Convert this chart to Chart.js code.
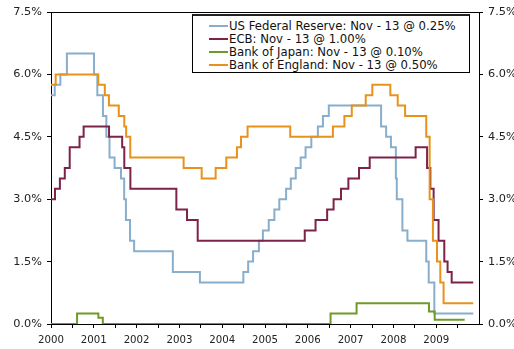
<!DOCTYPE html>
<html>
<head>
<meta charset="utf-8">
<script src="https://cdn.jsdelivr.net/npm/chart.js@4.4.1/dist/chart.umd.min.js"></script>
<style>
  body { margin: 0; background: #fff; }
  #wrap { position: relative; width: 514px; height: 349px; }
  #legend {
    position: absolute; left: 192px; top: 14px; width: 278px; height: 59px;
    box-sizing: border-box; border: 1px solid #000; border-top: 2px solid #222; background: #fff;
    font: 11.7px 'DejaVu Sans', Verdana, sans-serif; color: #111; padding-top: 3px;
  }
  .row { display: flex; align-items: center; height: 13px; padding-left: 16px; white-space: nowrap; }
  .swatch { width: 19px; height: 2px; margin-right: 1px; }
</style>
</head>
<body>
<div id="wrap">
  <canvas id="ratesChart" width="514" height="349"></canvas>
  <div id="legend"></div>
</div>
<script>
// series labels / colours
const seriesLabels = [
    'US Federal Reserve: Nov - 13 @ 0.25%',
    'ECB: Nov - 13 @ 1.00%',
    'Bank of Japan: Nov - 13 @ 0.10%',
    'Bank of England: Nov - 13 @ 0.50%'
];
const seriesColors = ['#88AECB', '#7D2249', '#6F9A28', '#E8921B'];

// policy rate change dates and rates (value holds until next date)
const fedDates = ['2000-01-01', '2000-02-02', '2000-03-21', '2000-05-16', '2001-01-03', '2001-01-31',
    '2001-03-20', '2001-04-18', '2001-05-15', '2001-06-27', '2001-08-21', '2001-09-17', '2001-10-02',
    '2001-11-06', '2001-12-11', '2002-11-06', '2003-06-25', '2004-06-30', '2004-08-10', '2004-09-21',
    '2004-11-10', '2004-12-14', '2005-02-02', '2005-03-22', '2005-05-03', '2005-06-30', '2005-08-09',
    '2005-09-20', '2005-11-01', '2005-12-13', '2006-01-31', '2006-03-28', '2006-05-10', '2006-06-29',
    '2007-09-18', '2007-10-31', '2007-12-11', '2008-01-22', '2008-01-30', '2008-03-18', '2008-04-30',
    '2008-10-08', '2008-10-29', '2008-12-16', '2009-11-13'];
const fedRates = [5.50, 5.75, 6.00, 6.50, 6.00, 5.50,
    5.00, 4.50, 4.00, 3.75, 3.50, 3.00, 2.50,
    2.00, 1.75, 1.25, 1.00, 1.25, 1.50, 1.75,
    2.00, 2.25, 2.50, 2.75, 3.00, 3.25, 3.50,
    3.75, 4.00, 4.25, 4.50, 4.75, 5.00, 5.25,
    4.75, 4.50, 4.25, 3.50, 3.00, 2.25, 2.00,
    1.50, 1.00, 0.25, 0.25];

const ecbDates = ['2000-01-01', '2000-02-04', '2000-03-17', '2000-04-28', '2000-06-09', '2000-09-01',
    '2000-10-06', '2001-05-11', '2001-08-31', '2001-09-18', '2001-11-09', '2002-12-06', '2003-03-07',
    '2003-06-06', '2005-12-06', '2006-03-08', '2006-06-15', '2006-08-09', '2006-10-11', '2006-12-13',
    '2007-03-14', '2007-06-13', '2008-07-09', '2008-10-15', '2008-11-12', '2008-12-10', '2009-01-21',
    '2009-03-11', '2009-04-08', '2009-05-13', '2009-11-13'];
const ecbRates = [3.00, 3.25, 3.50, 3.75, 4.25, 4.50,
    4.75, 4.50, 4.25, 3.75, 3.25, 2.75, 2.50,
    2.00, 2.25, 2.50, 2.75, 3.00, 3.25, 3.50,
    3.75, 4.00, 4.25, 3.75, 3.25, 2.50, 2.00,
    1.50, 1.25, 1.00, 1.00];

const bojDates = ['2000-01-01', '2000-08-11', '2001-02-09', '2001-03-19', '2006-07-14', '2007-02-21',
    '2008-10-31', '2008-12-19', '2009-09-01'];
const bojRates = [0.00, 0.25, 0.15, 0.00, 0.25, 0.50, 0.30, 0.10, 0.10];

const boeDates = ['2000-01-01', '2000-02-10', '2001-02-08', '2001-04-05', '2001-05-10', '2001-08-02',
    '2001-09-18', '2001-10-04', '2001-11-08', '2003-02-06', '2003-07-10', '2003-11-06', '2004-02-05',
    '2004-05-06', '2004-06-10', '2004-08-05', '2005-08-04', '2006-08-03', '2006-11-09', '2007-01-11',
    '2007-05-10', '2007-07-05', '2007-12-06', '2008-02-07', '2008-04-10', '2008-10-08', '2008-11-06',
    '2008-12-04', '2009-01-08', '2009-02-05', '2009-03-05', '2009-11-13'];
const boeRates = [5.75, 6.00, 5.75, 5.50, 5.25, 5.00,
    4.75, 4.50, 4.00, 3.75, 3.50, 3.75, 4.00,
    4.25, 4.50, 4.75, 4.50, 4.75, 5.00, 5.25,
    5.50, 5.75, 5.50, 5.25, 5.00, 4.50, 3.00,
    2.00, 1.50, 1.00, 0.50, 0.50];

// axis labels
const yearLabels = [2000, 2001, 2002, 2003, 2004, 2005, 2006, 2007, 2008, 2009];
const yTicks = [0, 1.5, 3.0, 4.5, 6.0, 7.5];

// date string -> fractional year
function toYear(s) {
    const [y, m, d] = s.split('-').map(Number);
    const start = Date.UTC(y, 0, 1);
    const len = Date.UTC(y + 1, 0, 1) - start;
    return y + (Date.UTC(y, m - 1, d) - start) / len;
}

function toPoints(dates, rates) {
    return dates.map((d, i) => ({ x: toYear(d), y: rates[i] }));
}

const seriesData = [
    toPoints(fedDates, fedRates),
    toPoints(ecbDates, ecbRates),
    toPoints(bojDates, bojRates),
    toPoints(boeDates, boeRates)
];

Chart.defaults.font.family = "'DejaVu Sans', Verdana, sans-serif";
Chart.defaults.font.size = 11;
Chart.defaults.color = '#222';

// top edge of the plot frame
const frameTop = {
    id: 'frameTop',
    beforeDatasetsDraw(chart) {
        const { ctx, chartArea } = chart;
        ctx.save();
        ctx.strokeStyle = '#000';
        ctx.lineWidth = 1;
        ctx.beginPath();
        ctx.moveTo(chartArea.left, Math.round(chartArea.top) + 0.5);
        ctx.lineTo(chartArea.right, Math.round(chartArea.top) + 0.5);
        ctx.stroke();
        ctx.restore();
    }
};

const yAxis = (position, width) => ({
    type: 'linear',
    position: position,
    min: 0,
    max: 7.5,
    afterBuildTicks: scale => { scale.ticks = yTicks.map(v => ({ value: v })); },
    afterFit: scale => { scale.width = width; },
    grid: { drawOnChartArea: false, color: '#000', tickLength: 4 },
    border: { color: '#000', width: 1 },
    ticks: {
        padding: 5,
        font: { size: 11.3 },
        callback: v => v.toFixed(1) + '%'
    }
});

new Chart(document.getElementById('ratesChart'), {
    type: 'line',
    data: {
        datasets: seriesLabels.map((label, i) => ({
            label: label,
            data: seriesData[i],
            borderColor: seriesColors[i],
            backgroundColor: seriesColors[i],
            borderWidth: 2,
            pointRadius: 0,
            stepped: true,
            fill: false,
            order: 4 - i
        }))
    },
    options: {
        responsive: false,
        animation: false,
        layout: { padding: { top: 12, left: 0, right: 0, bottom: 0 } },
        plugins: { legend: { display: false }, tooltip: { enabled: false } },
        scales: {
            x: {
                type: 'linear',
                min: 2000,
                max: 2010,
                afterBuildTicks: scale => {
                    scale.ticks = [];
                    yearLabels.forEach(y => {
                        scale.ticks.push({ value: y });
                        scale.ticks.push({ value: y + 0.5 });
                    });
                },
                afterFit: scale => { scale.height = 25; },
                grid: { drawOnChartArea: false, color: '#000', tickLength: 4 },
                border: { color: '#000', width: 1 },
                ticks: {
                    autoSkip: false,
                    maxRotation: 0,
                    padding: 6,
                    font: { size: 10.2 },
                    callback: v => yearLabels.includes(v) ? String(v) : ''
                }
            },
            y: yAxis('left', 51),
            y2: yAxis('right', 35)
        }
    },
    plugins: [frameTop]
});

// legend as html
const legend = document.getElementById('legend');
seriesLabels.forEach((label, i) => {
    const row = document.createElement('div');
    row.className = 'row';
    const sw = document.createElement('span');
    sw.className = 'swatch';
    sw.style.background = seriesColors[i];
    const txt = document.createElement('span');
    txt.textContent = label;
    row.appendChild(sw);
    row.appendChild(txt);
    legend.appendChild(row);
});
</script>
</body>
</html>
